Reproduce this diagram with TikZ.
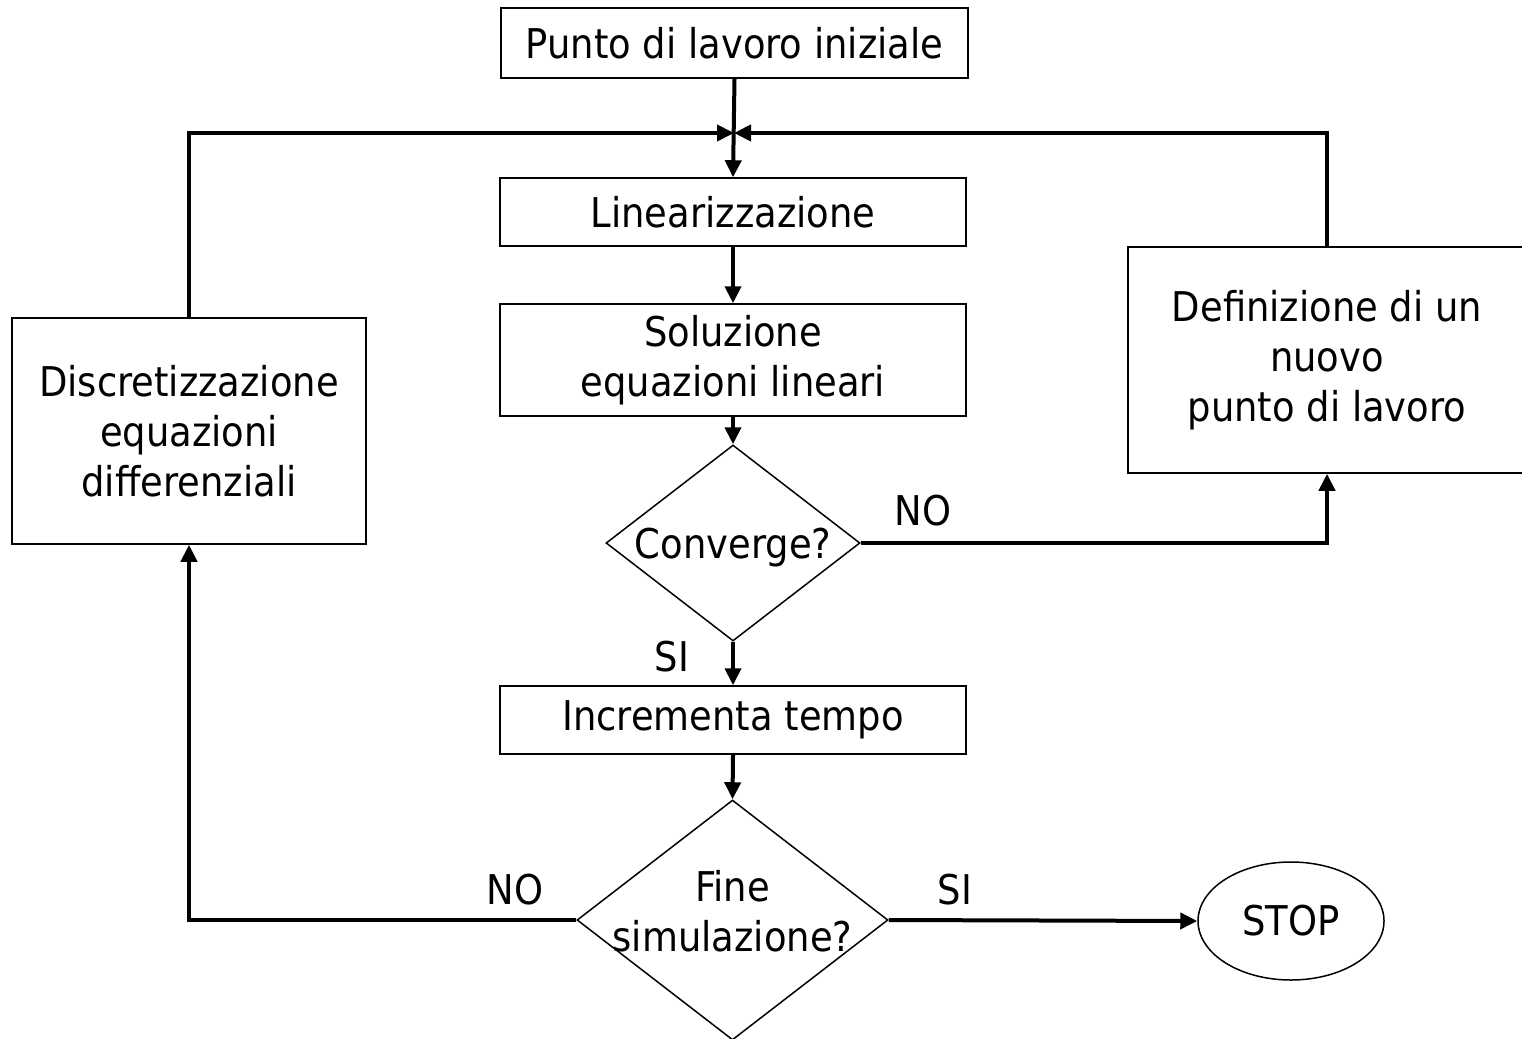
\documentclass[tikz,border=0pt]{standalone}
\usepackage{fontspec}
\setmainfont{DejaVu Sans}[FakeStretch=0.9]
\usetikzlibrary{shapes.geometric,arrows.meta}

\begin{document}
\begin{tikzpicture}[x=1pt,y=-1pt,
  every node/.style={font=\fontsize{41}{50}\selectfont, align=center},
  stepbox/.style={draw, line width=1.5pt, rectangle, inner sep=0pt},
  decision/.style={draw, line width=1.5pt, diamond, inner sep=0pt},
  terminal/.style={draw, line width=1.5pt, ellipse, inner sep=0pt},
  flow/.style={line width=4pt, -{Triangle[length=17pt,width=16pt]}},
  tag/.style={inner sep=0pt}]
\useasboundingbox (0,0) rectangle (1522,1038);
\fill[white] (0,0) rectangle (1522,1038);

% process blocks
\node[stepbox, minimum width=467pt, minimum height=70pt] (start) at (734.5,43) {Punto di lavoro iniziale};
\node[stepbox, minimum width=466pt, minimum height=68pt] (lin) at (733,212) {Linearizzazione};
\node[stepbox, minimum width=466pt, minimum height=112pt] (sol) at (733,360) {Soluzione\\equazioni lineari};
\node[stepbox, minimum width=466pt, minimum height=68pt] (inc) at (733,720) {Incrementa tempo};
\node[stepbox, minimum width=354pt, minimum height=226pt] (disc) at (189,431) {Discretizzazione\\equazioni\\differenziali};
\node[stepbox, minimum width=398pt, minimum height=226pt] (def) at (1327,360) {Definizione di un\\nuovo\\punto di lavoro};

% decisions and end
\node[decision, minimum width=254pt, minimum height=196pt, label={[yshift=-5pt]center:Converge?}] (conv) at (733,543) {};
\node[decision, minimum width=311pt, minimum height=240pt, label={[yshift=9pt]center:Fine\\simulazione?}] (fine) at (732.5,920) {};
\node[terminal, minimum width=186pt, minimum height=118pt] (stop) at (1291,921) {STOP};

% branch labels
\node[tag] (noconv) at (923,511) {NO};
\node[tag] (siconv) at (672,657) {SI};
\node[tag] (nofine) at (515,890) {NO};
\node[tag] (sifine) at (955,890) {SI};

% junction where the loops re-enter
\coordinate (join) at (734,133);

% connectors
\draw[flow] (start.south) -- (lin.north);
\draw[flow] (lin.south) -- (sol.north);
\draw[flow] (sol.south) -- (conv.north);
\draw[flow] (conv.south) -- (inc.north);
\draw[flow] (inc.south) -- (fine.north);
\draw[flow] (fine.east) -- (stop.west);
\draw[flow] (conv.east) -| (def.south);
\draw[flow] (fine.west) -| (disc.south);
\draw[flow] (def.north) |- (join);
\draw[flow] (disc.north) |- (join);
\end{tikzpicture}
\end{document}
